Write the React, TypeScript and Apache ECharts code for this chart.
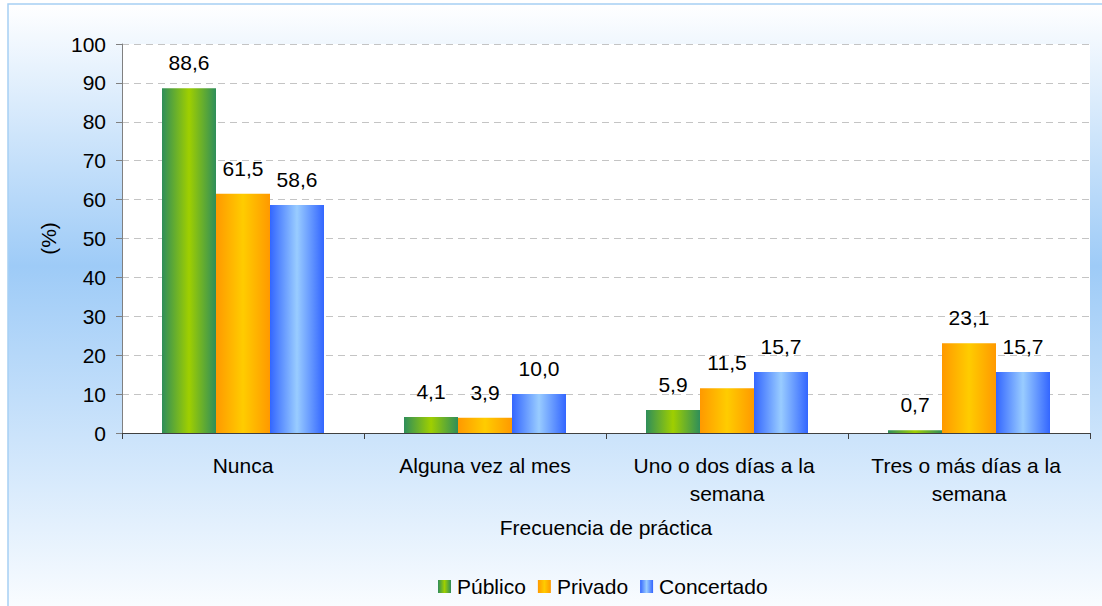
import React, { useEffect, useRef } from "react";
import * as echarts from "echarts";

const categories = ["Nunca", "Alguna vez al mes", "Uno o dos días a la semana", "Tres o más días a la semana"];
const publico = [88.6, 4.1, 5.9, 0.7];
const privado = [61.5, 3.9, 11.5, 23.1];
const concertado = [58.6, 10.0, 15.7, 15.7];
const seriesNames = ["Público", "Privado", "Concertado"];
const yAxisName = "(%)";
const xAxisName = "Frecuencia de práctica";

const FONT = "Liberation Sans, Arial, sans-serif";
const FS = 21;

const grad = (edge: string, mid: string) =>
  new echarts.graphic.LinearGradient(0, 0, 1, 0, [
    { offset: 0, color: edge },
    { offset: 0.5, color: mid },
    { offset: 1, color: edge },
  ]);

export default function App() {
  const ref = useRef<HTMLDivElement>(null);
  useEffect(() => {
    const chart = echarts.init(ref.current!, undefined, { renderer: "svg" });
    const labelCfg = {
      show: true,
      position: "top" as const,
      distance: 15,
      color: "#000",
      fontSize: FS,
      fontFamily: FONT,
      formatter: (p: any) => p.value.toFixed(1).replace(".", ","),
    };
    const mk = (name: string, data: number[], edge: string, mid: string) => ({
      name,
      type: "bar",
      data,
      barWidth: 54,
      barGap: "0%",
      itemStyle: { color: grad(edge, mid) },
      label: labelCfg,
    });
    chart.setOption({
      animation: false,
      textStyle: { fontFamily: FONT },
      graphic: [
        {
          type: "rect",
          z: -10,
          silent: true,
          shape: { x: 8, y: 4, width: 1102, height: 610 },
          style: {
            fill: new echarts.graphic.LinearGradient(0, 0, 0, 1, [
              { offset: 0, color: "#ffffff" },
              { offset: 0.43, color: "#9ecbf7" },
              { offset: 1, color: "#fbfdff" },
            ]),
            stroke: "#a6cff4",
            lineWidth: 1.5,
          },
        },
      ],
      grid: {
        left: 122,
        right: 12,
        top: 44,
        bottom: 173,
        show: true,
        backgroundColor: "#ffffff",
        borderWidth: 0,
        z: 0,
      },
      legend: {
        bottom: 4,
        left: 433,
        itemWidth: 13,
        itemHeight: 13,
        itemGap: 12,
        icon: "rect",
        textStyle: { fontSize: FS, color: "#000", fontFamily: FONT, padding: [0, 0, 0, 1] },
        data: seriesNames,
      },
      xAxis: {
        type: "category",
        data: categories,
        name: xAxisName,
        nameLocation: "middle",
        nameGap: 84,
        nameTextStyle: { fontSize: FS, color: "#000", fontFamily: FONT },
        axisLine: { lineStyle: { color: "#404040", width: 1 } },
        axisTick: { show: true, length: 6, lineStyle: { color: "#404040" } },
        axisLabel: {
          fontSize: FS,
          color: "#000",
          fontFamily: FONT,
          margin: 18,
          lineHeight: 28,
          width: 232,
          overflow: "break",
          interval: 0,
        },
      },
      yAxis: {
        type: "value",
        min: 0,
        max: 100,
        interval: 10,
        name: yAxisName,
        nameLocation: "middle",
        nameGap: 63,
        nameRotate: 90,
        nameTextStyle: { fontSize: FS, color: "#000", fontFamily: FONT },
        axisLine: { show: true, lineStyle: { color: "#808080" } },
        axisTick: { show: true, length: 6, lineStyle: { color: "#808080" } },
        axisLabel: { fontSize: FS, color: "#000", fontFamily: FONT, margin: 16 },
        splitLine: { show: true, lineStyle: { color: "#c4c4c4", type: [7, 5], width: 1 } },
      },
      series: [
        mk(seriesNames[0], publico, "#2f8e5a", "#9fcf00"),
        mk(seriesNames[1], privado, "#ff9900", "#ffcc00"),
        mk(seriesNames[2], concertado, "#3366ff", "#99ccff"),
      ],
    });
    return () => chart.dispose();
  }, []);
  return (
    <div
      ref={ref}
      style={{ position: "fixed", left: 0, top: 0, width: 1102, height: 606, background: "#ffffff" }}
    />
  );
}
